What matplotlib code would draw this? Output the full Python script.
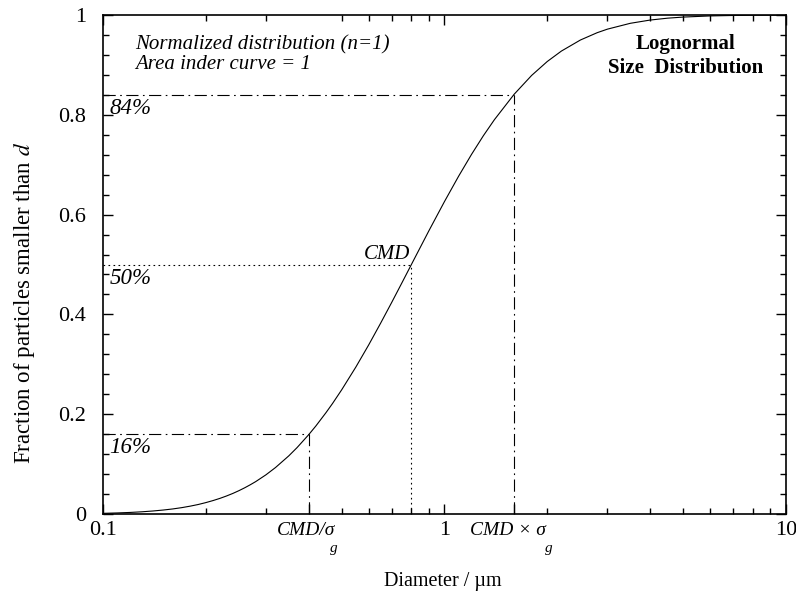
import numpy as np
import matplotlib
matplotlib.use('Agg')
import matplotlib.pyplot as plt
import matplotlib.transforms as mtransforms
from matplotlib.ticker import LogLocator, FixedLocator, FixedFormatter, NullFormatter

plt.rcParams['font.family'] = ['Liberation Serif', 'DejaVu Serif']
plt.rcParams['mathtext.fontset'] = 'stix'

# cumulative curve (CMD ~ 0.8 um, sigma_g ~ 2)
diam = [0.1, 0.11, 0.12, 0.13, 0.14, 0.15, 0.16, 0.17, 0.18, 0.19, 0.2, 0.21,
        0.22, 0.23, 0.24, 0.25, 0.26, 0.27, 0.28, 0.3, 0.32, 0.35, 0.37, 0.4,
        0.42, 0.45, 0.47, 0.5, 0.55, 0.6, 0.65, 0.7, 0.75, 0.8, 0.9, 1.0, 1.1,
        1.2, 1.3, 1.4, 1.6, 1.8, 2.0, 2.2, 2.5, 2.8, 3.0, 3.5, 4.0, 4.5, 5.0,
        6.0, 7.0, 8.0, 10.0]
frac = [0.0013, 0.0021, 0.0031, 0.0044, 0.0060, 0.0079, 0.0101, 0.0127,
        0.0157, 0.0190, 0.0228, 0.0269, 0.0313, 0.0361, 0.0412, 0.0467,
        0.0525, 0.0586, 0.0649, 0.0785, 0.0931, 0.1165, 0.1330, 0.1587,
        0.1763, 0.2033, 0.2214, 0.2489, 0.2944, 0.339, 0.3823, 0.4236,
        0.4629, 0.5, 0.5675, 0.6262, 0.677, 0.7207, 0.7582, 0.7902, 0.8413,
        0.879, 0.9069, 0.9278, 0.9499, 0.9646, 0.9717, 0.9834, 0.9899,
        0.9937, 0.9959, 0.9982, 0.9991, 0.9996, 0.9999]

cmd = 0.8
cmd_lo = 0.4   # CMD / sigma_g
cmd_hi = 1.6   # CMD x sigma_g
p16, p50, p84 = 0.16, 0.5, 0.84

x_ticks = [0.1, 1, 10, cmd_lo, cmd_hi]
x_labels = ['0.1', '1', '10', '', '']
y_ticks = [0, 0.2, 0.4, 0.6, 0.8, 1]
y_labels = ['0', '0.2', '0.4', '0.6', '0.8', '1']

fig = plt.figure(figsize=(7.96, 5.94), dpi=100)
ax = fig.add_axes([0.1294, 0.1347, 0.8580, 0.8400])

ax.plot(diam, frac, color='black', lw=0.8)

dashdot = (0, (11, 4, 1.5, 4))
dotted = (0, (1.5, 3))
ax.plot([0.1, cmd_hi], [p84, p84], color='black', lw=0.8, ls=dashdot)
ax.plot([cmd_hi, cmd_hi], [0, p84], color='black', lw=0.8, ls=dashdot)
ax.plot([0.1, cmd_lo], [p16, p16], color='black', lw=0.8, ls=dashdot)
ax.plot([cmd_lo, cmd_lo], [0, p16], color='black', lw=0.8, ls=dashdot)
ax.plot([0.1, cmd], [p50, p50], color='black', lw=0.8, ls=dotted)
ax.plot([cmd, cmd], [0, p50], color='black', lw=0.8, ls=dotted)

ax.set_xscale('log')
ax.set_xlim(0.1, 10)
ax.set_ylim(0, 1)

ax.xaxis.set_major_locator(FixedLocator(x_ticks))
ax.xaxis.set_major_formatter(FixedFormatter(x_labels))
ax.xaxis.set_minor_locator(LogLocator(base=10, subs=np.arange(2, 10)))
ax.xaxis.set_minor_formatter(NullFormatter())
ax.yaxis.set_major_locator(FixedLocator(y_ticks))
ax.yaxis.set_major_formatter(FixedFormatter(y_labels))
ax.yaxis.set_minor_locator(FixedLocator(np.arange(0, 1.001, 0.04)))

ax.tick_params(which='both', direction='in', top=True, right=True,
               labelsize=16, width=1)
ax.tick_params(which='major', length=7)
ax.tick_params(which='minor', length=4)
ax.tick_params(axis='x', pad=5)
ax.tick_params(axis='y', pad=12)
for t in ax.xaxis.get_major_ticks()[3:]:
    t.tick2line.set_visible(False)

for s in ax.spines.values():
    s.set_linewidth(1.2)

# CMD tick labels with a dropped subscript
trans = mtransforms.blended_transform_factory(ax.transData, ax.transAxes)
ax.text(cmd_lo * 0.985, -0.017, 'CMD/σ', transform=trans, fontsize=14,
        style='italic', ha='center', va='top')
ax.text(0.474, -0.056, 'g', transform=trans, fontsize=11, style='italic',
        ha='center', va='top')
ax.text(cmd_hi * 0.96, -0.017, 'CMD × σ', transform=trans, fontsize=14,
        style='italic', ha='center', va='top')
ax.text(2.02, -0.056, 'g', transform=trans, fontsize=11, style='italic',
        ha='center', va='top')

ax.set_xlabel('Diameter / µm', fontsize=14.5)
ax.xaxis.set_label_coords(0.497, -0.116)
ax.set_ylabel('Fraction of particles smaller than $\\mathit{d}$', fontsize=16.5)
ax.yaxis.set_label_coords(-0.097, 0.423)

ax.text(0.047, 0.96, 'Normalized distribution (n=1)', transform=ax.transAxes,
        fontsize=15, style='italic', va='top')
ax.text(0.047, 0.92, 'Area inder curve = 1', transform=ax.transAxes,
        fontsize=15, style='italic', va='top')
ax.text(0.8536, 0.962, 'Lognormal\nSize  Distribution', transform=ax.transAxes,
        fontsize=15, weight='bold', va='top', ha='center', linespacing=1.3)

ax.text(0.1045, p84 - 0.006, '84%', fontsize=16.5, style='italic', va='top')
ax.text(0.1045, p50 - 0.006, '50%', fontsize=16.5, style='italic', va='top')
ax.text(0.1045, p16 - 0.006, '16%', fontsize=16.5, style='italic', va='top')
ax.text(cmd * 0.99, p50 + 0.002, 'CMD', fontsize=15, style='italic',
        ha='right', va='bottom')

fig.savefig('out.png', dpi=100)
